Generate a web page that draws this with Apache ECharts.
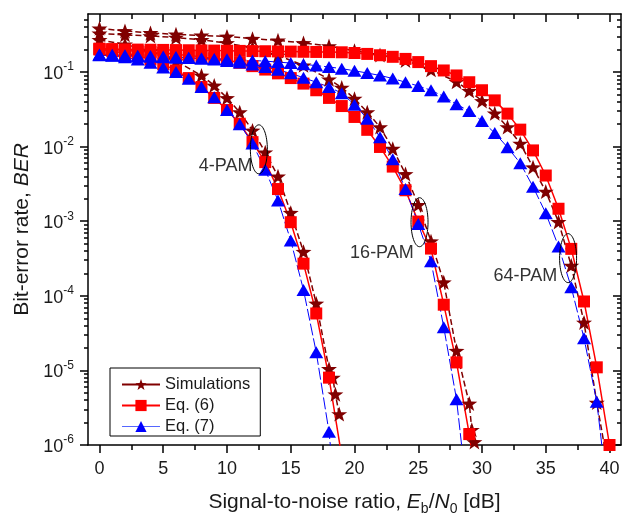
<!DOCTYPE html>
<html><head><meta charset="utf-8">
<script src="https://cdn.jsdelivr.net/npm/echarts@6/dist/echarts.min.js"></script>
<style>html,body{margin:0;padding:0;background:#fff}#c{width:626px;height:514px}</style>
</head><body><div id="c"></div>
<script>
// ---------- data (Eb/N0 in dB, BER) ----------
const sim4X = [0,2,4,6,8,9,10,11,12,13,14,15,16,17,18,18.3,18.5,18.8];
const sim4Y = [0.27,0.235,0.19,0.14,0.09,0.066,0.045,0.029,0.0165,0.0084,0.004,0.0013,3.9e-4,7.9e-5,1.05e-5,8e-6,4.8e-6,2.6e-6];
const sim16X = [0,2,4,6,8,10,12,14,16,18,19,20,21,22,23,24,25,26,27,28,29,29.2,29.4];
const sim16Y = [0.33,0.315,0.305,0.29,0.27,0.245,0.21,0.167,0.123,0.08,0.062,0.044,0.029,0.0183,0.0094,0.0043,0.00166,5.4e-4,1.52e-4,1.84e-5,3.6e-6,1.6e-6,1.1e-6];
const sim64X = [0,2,4,6,8,10,12,14,16,18,20,22,24,26,28,29,30,31,32,33,34,35,36,37,38,39,40];
const sim64Y = [0.385,0.355,0.335,0.32,0.31,0.3,0.28,0.266,0.245,0.223,0.193,0.169,0.143,0.107,0.074,0.056,0.041,0.028,0.0183,0.011,0.0053,0.0025,9.8e-4,2.54e-4,4.4e-5,3.7e-6,4e-7];

const eq6X4 = [0,1,2,3,4,5,6,7,8,9,10,11,12,13,14,15,16,17,18,19];
const eq6Y4 = [0.2,0.19,0.18,0.165,0.147,0.127,0.105,0.083,0.063,0.045,0.031,0.0203,0.0115,0.0062,0.0027,9.7e-4,2.7e-4,5.8e-5,8e-6,7e-7];
const eq6X16 = [0,1,2,3,4,5,6,7,8,9,10,11,12,13,14,15,16,17,18,19,20,21,22,23,24,25,26,27,28,29,30];
const eq6Y16 = [0.205,0.2,0.195,0.19,0.185,0.18,0.173,0.166,0.16,0.153,0.145,0.133,0.12,0.108,0.096,0.083,0.07,0.057,0.045,0.035,0.025,0.0168,0.0099,0.0054,0.0026,9.9e-4,4.3e-4,7.6e-5,1.28e-5,1.4e-6,1e-7];
const eq6X64 = [0,1,2,3,4,5,6,7,8,9,10,11,12,13,14,15,16,17,18,19,20,21,22,23,24,25,26,27,28,29,30,31,32,33,34,35,36,37,38,39,40];
const eq6Y64 = [0.205,0.203,0.201,0.2,0.199,0.198,0.197,0.196,0.195,0.194,0.193,0.192,0.191,0.19,0.189,0.188,0.187,0.186,0.185,0.184,0.18,0.175,0.168,0.16,0.15,0.136,0.12,0.105,0.09,0.073,0.057,0.0417,0.0277,0.0169,0.0089,0.0041,0.00147,4.26e-4,8.4e-5,1.1e-5,1e-6];

const eq7X4 = [0,1,2,3,4,5,6,7,8,9,10,11,12,13,14,15,16,17,18,19];
const eq7Y4 = [0.17,0.167,0.158,0.147,0.133,0.115,0.1,0.0815,0.063,0.046,0.031,0.02,0.011,0.0049,0.0019,5.5e-4,1.2e-4,1.75e-5,1.5e-6,3e-8];
const eq7X16 = [0,1,2,3,4,5,6,7,8,9,10,11,12,13,14,15,16,17,18,19,20,21,22,23,24,25,26,27,28,29];
const eq7Y16 = [0.172,0.17,0.168,0.166,0.164,0.162,0.159,0.156,0.152,0.147,0.141,0.134,0.126,0.117,0.107,0.096,0.084,0.073,0.063,0.052,0.0365,0.0237,0.0134,0.0068,0.0027,9.2e-4,2.9e-4,3.8e-5,4.1e-6,1.2e-7];
const eq7X64 = [0,1,2,3,4,5,6,7,8,9,10,11,12,13,14,15,16,17,18,19,20,21,22,23,24,25,26,27,28,29,30,31,32,33,34,35,36,37,38,39,40];
const eq7Y64 = [0.168,0.166,0.164,0.162,0.16,0.158,0.156,0.154,0.152,0.15,0.148,0.146,0.143,0.14,0.136,0.132,0.127,0.122,0.117,0.111,0.104,0.097,0.09,0.082,0.073,0.065,0.057,0.047,0.037,0.03,0.022,0.0152,0.0098,0.006,0.0029,0.00128,4.6e-4,1.3e-4,2.7e-5,3.8e-6,1.3e-7];

const seriesNames = ['Simulations', 'Eq. (6)', 'Eq. (7)'];
const xMajorTicks = [0,5,10,15,20,25,30,35,40];
const xMinorTicks = [2.5,7.5,12.5,17.5,22.5,27.5,32.5,37.5];
const yMajorTicks = [1e-6,1e-5,1e-4,1e-3,1e-2,1e-1];
const yMinorTicks = [];
for (let k = -6; k <= -1; k++) for (let m = 2; m <= 9; m++) { const v = m * Math.pow(10, k); if (v <= 0.6) yMinorTicks.push(v); }

// annotation texts and anchor points (data coordinates)
const groupLabels = ['4-PAM', '16-PAM', '64-PAM'];
const labelAnchors = [[12, 0.0055], [24.65, 3.8e-4], [35.9, 1.85e-4]];
const ellipseAnchors = [[12.5, 0.0092], [25.1, 9.7e-4], [36.75, 3.2e-4]];

// ---------- chart ----------
const FONT = 'Liberation Sans, Arial, sans-serif';
const STAR = 'path://M0,-10L2.35,-3.24L9.51,-3.09L3.8,1.24L5.88,8.09L0,4L-5.88,8.09L-3.8,1.24L-9.51,-3.09L-2.35,-3.24Z';
const zip = (xs, ys) => xs.map((x, i) => [x, ys[i]]);

const simStyle = { color: '#800000', symbol: STAR, symbolSize: [16, 15], line: { color: '#800000', width: 1.5, type: [6, 3] } };
const eq6Style = { color: '#ff0000', symbol: 'rect', symbolSize: 12, line: { color: '#ff0000', width: 1.5, type: 'solid' } };
const eq7Style = { color: '#0000ff', symbol: 'triangle', symbolSize: [14, 12], line: { color: '#0000ff', width: 1, type: [12, 3] } };

function mk(name, xs, ys, st) {
  return {
    type: 'line', name: name, data: zip(xs, ys),
    symbol: st.symbol, symbolSize: st.symbolSize, showSymbol: true,
    itemStyle: { color: st.color, borderWidth: 0 },
    lineStyle: st.line, clip: true, z: 3, animation: false,
    emphasis: { disabled: true }
  };
}

const series = [
  mk(seriesNames[0], sim4X, sim4Y, simStyle),
  mk(seriesNames[0], sim16X, sim16Y, simStyle),
  mk(seriesNames[0], sim64X, sim64Y, simStyle),
  mk(seriesNames[1], eq6X4, eq6Y4, eq6Style),
  mk(seriesNames[1], eq6X16, eq6Y16, eq6Style),
  mk(seriesNames[1], eq6X64, eq6Y64, eq6Style),
  mk(seriesNames[2], eq7X4, eq7Y4, eq7Style),
  mk(seriesNames[2], eq7X16, eq7Y16, eq7Style),
  mk(seriesNames[2], eq7X64, eq7Y64, eq7Style)
];

const AX = { color: '#000', width: 1.5 };
const X_MIN = -0.9, X_MAX = 40.9, Y_MIN = 1e-6, Y_MAX = 0.6;

function xAx(pos, ticks, len, inside, main) {
  return {
    type: 'value', position: pos, min: X_MIN, max: X_MAX,
    axisLine: { show: main, onZero: false, lineStyle: AX },
    axisTick: { show: true, customValues: ticks, length: len, inside: inside, lineStyle: AX },
    axisLabel: { show: false }, splitLine: { show: false }
  };
}
function yAx(pos, ticks, len, inside, main) {
  return {
    type: 'log', logBase: 10, position: pos, min: Y_MIN, max: Y_MAX,
    axisLine: { show: main, onZero: false, lineStyle: AX },
    axisTick: { show: true, customValues: ticks, length: len, inside: inside, lineStyle: AX },
    axisLabel: { show: false }, splitLine: { show: false }, minorTick: { show: false }
  };
}

const xAxes = [
  xAx('bottom', xMajorTicks, 8, false, true),
  xAx('bottom', xMinorTicks, 5, false, false),
  xAx('top', xMajorTicks, 8, true, true),
  xAx('top', xMinorTicks, 5, true, false)
];
xAxes[0].axisLabel = { show: true, customValues: xMajorTicks, fontSize: 18, fontFamily: FONT, color: '#1a1a1a', margin: 15 };
xAxes[0].name = '{n|Signal-to-noise ratio, }{i|E}{s|b}{n|/}{i|N}{s|0}{n| [dB]}';
xAxes[0].nameLocation = 'middle';
xAxes[0].nameGap = 47;
xAxes[0].nameTextStyle = {
  rich: {
    n: { fontSize: 21, fontFamily: FONT, color: '#1a1a1a', lineHeight: 24, verticalAlign: 'top' },
    i: { fontSize: 21, fontFamily: FONT, color: '#1a1a1a', fontStyle: 'italic', lineHeight: 24, verticalAlign: 'top' },
    s: { fontSize: 14, fontFamily: FONT, color: '#1a1a1a', lineHeight: 10, verticalAlign: 'bottom' }
  }
};

const yAxes = [
  yAx('left', yMajorTicks, 8, false, true),
  yAx('left', yMinorTicks, 4, false, false),
  yAx('right', yMajorTicks, 8, true, true),
  yAx('right', yMinorTicks, 4, true, false)
];
yAxes[0].axisLabel = {
  show: true, customValues: yMajorTicks, margin: 14,
  formatter: function (v) { return '{a|10}{b|' + Math.round(Math.log10(v)) + '}'; },
  rich: {
    a: { fontSize: 18, fontFamily: FONT, color: '#1a1a1a', lineHeight: 22, verticalAlign: 'bottom' },
    b: { fontSize: 12, fontFamily: FONT, color: '#1a1a1a', lineHeight: 12, verticalAlign: 'top' }
  }
};
yAxes[0].name = '{n|Bit-error rate, }{i|BER}';
yAxes[0].nameLocation = 'middle';
yAxes[0].nameGap = 52;
yAxes[0].nameTextStyle = {
  rich: {
    n: { fontSize: 21, fontFamily: FONT, color: '#1a1a1a' },
    i: { fontSize: 21, fontFamily: FONT, color: '#1a1a1a', fontStyle: 'italic' }
  }
};

const chart = echarts.init(document.getElementById('c'), null, { renderer: 'canvas' });
chart.setOption({
  animation: false,
  backgroundColor: '#fff',
  grid: { left: 88, right: 5, top: 14, bottom: 69, containLabel: false, outerBoundsMode: 'none' },
  xAxis: xAxes,
  yAxis: yAxes,
  legend: {
    data: [
      { name: seriesNames[0] },
      { name: seriesNames[1] },
      { name: seriesNames[2], lineStyle: { color: '#5566ff', width: 1 } }
    ],
    orient: 'vertical', left: 110, top: 368,
    itemWidth: 38, itemHeight: 14, itemGap: 4,
    padding: [8, 10, 1, 11],
    borderColor: '#000', borderWidth: 1, borderRadius: 0, backgroundColor: '#fff',
    lineStyle: { type: 'solid' },
    textStyle: { fontSize: 16.5, fontFamily: FONT, color: '#1a1a1a', lineHeight: 16 },
    selectedMode: false
  },
  series: series
});

// annotations placed from data coordinates
const gr = [];
groupLabels.forEach(function (t, i) {
  const p = chart.convertToPixel({ xAxisIndex: 0, yAxisIndex: 0 }, labelAnchors[i]);
  gr.push({ type: 'text', x: p[0], y: p[1], z: 10,
    style: { text: t, font: '18px ' + FONT, fill: '#333', align: 'right', verticalAlign: 'middle', textAlign: 'right', textVerticalAlign: 'middle' } });
  const q = chart.convertToPixel({ xAxisIndex: 0, yAxisIndex: 0 }, ellipseAnchors[i]);
  gr.push({ type: 'ellipse', z: 10, shape: { cx: q[0], cy: q[1], rx: 8.5, ry: 24.5 },
    style: { fill: 'none', stroke: '#000', lineWidth: 1 } });
});
chart.setOption({ graphic: gr });
</script>
</body></html>
